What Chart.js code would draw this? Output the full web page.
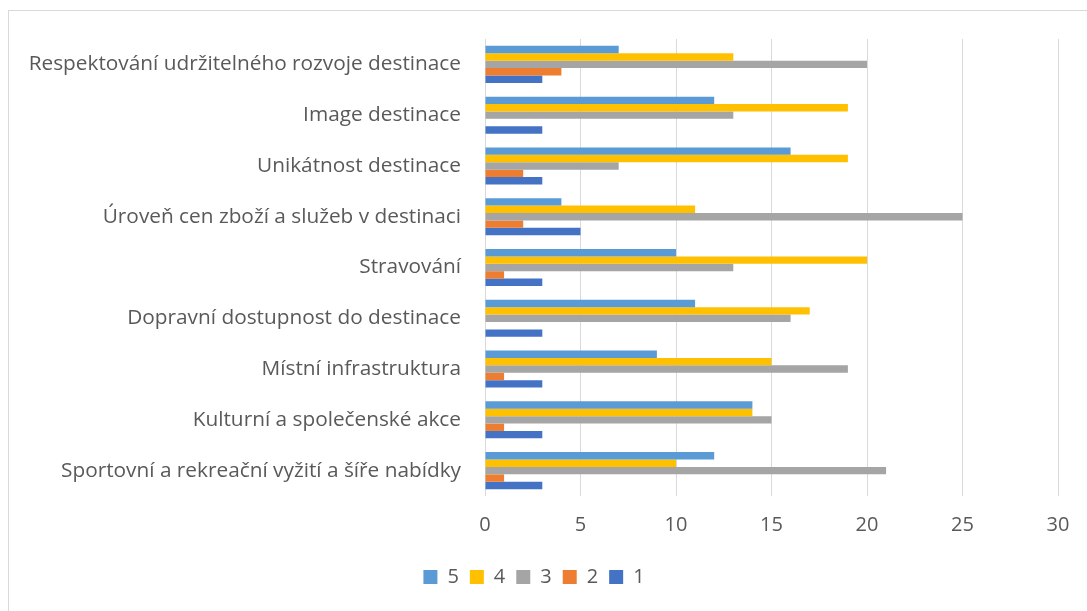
<!DOCTYPE html>
<html>
<head>
<meta charset="utf-8">
<script src="https://cdn.jsdelivr.net/npm/chart.js@4/dist/chart.umd.min.js"></script>
<style>
  html, body { margin: 0; padding: 0; background: #fff; overflow: hidden; }
  #frame { position: absolute; left: 8px; top: 10px; width: 1090px; height: 610px; border: 1px solid #d9d9d9; box-sizing: border-box; }
  #wrap { position: absolute; left: 0; top: 0; width: 1087px; height: 611px; }
</style>
</head>
<body>
<div id="frame"></div>
<div id="wrap"><canvas id="c" width="1087" height="611"></canvas></div>
<script>
const categories = [
  "Respektování udržitelného rozvoje destinace",
  "Image destinace",
  "Unikátnost destinace",
  "Úroveň cen zboží a služeb v destinaci",
  "Stravování",
  "Dopravní dostupnost do destinace",
  "Místní infrastruktura",
  "Kulturní a společenské akce",
  "Sportovní a rekreační vyžití a šíře nabídky"
];
const seriesNames = ["5", "4", "3", "2", "1"];
const values5 = [7, 12, 16, 4, 10, 11, 9, 14, 12];
const values4 = [13, 19, 19, 11, 20, 17, 15, 14, 10];
const values3 = [20, 13, 7, 25, 13, 16, 19, 15, 21];
const values2 = [4, 0, 2, 2, 1, 0, 1, 1, 1];
const values1 = [3, 3, 3, 5, 3, 3, 3, 3, 3];
const xTicks = [0, 5, 10, 15, 20, 25, 30];

const colors = ["#5B9BD5", "#FFC000", "#A5A5A5", "#ED7D31", "#4472C4"];
const allValues = [values5, values4, values3, values2, values1];

const FONT = "'Open Sans'";
const txt = "#595959";

new Chart(document.getElementById("c"), {
  type: "bar",
  data: {
    labels: categories,
    datasets: seriesNames.map((n, i) => ({
      label: n,
      data: allValues[i],
      backgroundColor: colors[i],
      borderWidth: 0,
      barPercentage: 1.0,
      categoryPercentage: 0.73
    }))
  },
  options: {
    indexAxis: "y",
    responsive: false,
    animation: false,
    layout: { padding: { left: 10, right: 29, top: 39, bottom: 14 } },
    plugins: {
      tooltip: { enabled: false },
      legend: {
        position: "bottom",
        labels: {
          boxWidth: 14, boxHeight: 14, padding: 11,
          color: txt,
          font: { family: FONT, size: 20 }
        }
      }
    },
    scales: {
      x: {
        min: 0, max: 30,
        afterBuildTicks: (s) => { s.ticks = xTicks.map(v => ({ value: v })); },
        grid: { color: "#d9d9d9", lineWidth: 1, drawTicks: false },
        border: { display: false },
        ticks: { color: txt, font: { family: FONT, size: 20 }, padding: 17 },
        afterFit: (s) => { s.height = 60; }
      },
      y: {
        grid: { display: false, drawTicks: false },
        border: { display: false },
        ticks: { color: txt, font: { family: FONT, size: 20.8 }, padding: 24, autoSkip: false },
        afterFit: (s) => { s.width = 475; }
      }
    }
  }
});
</script>
</body>
</html>
